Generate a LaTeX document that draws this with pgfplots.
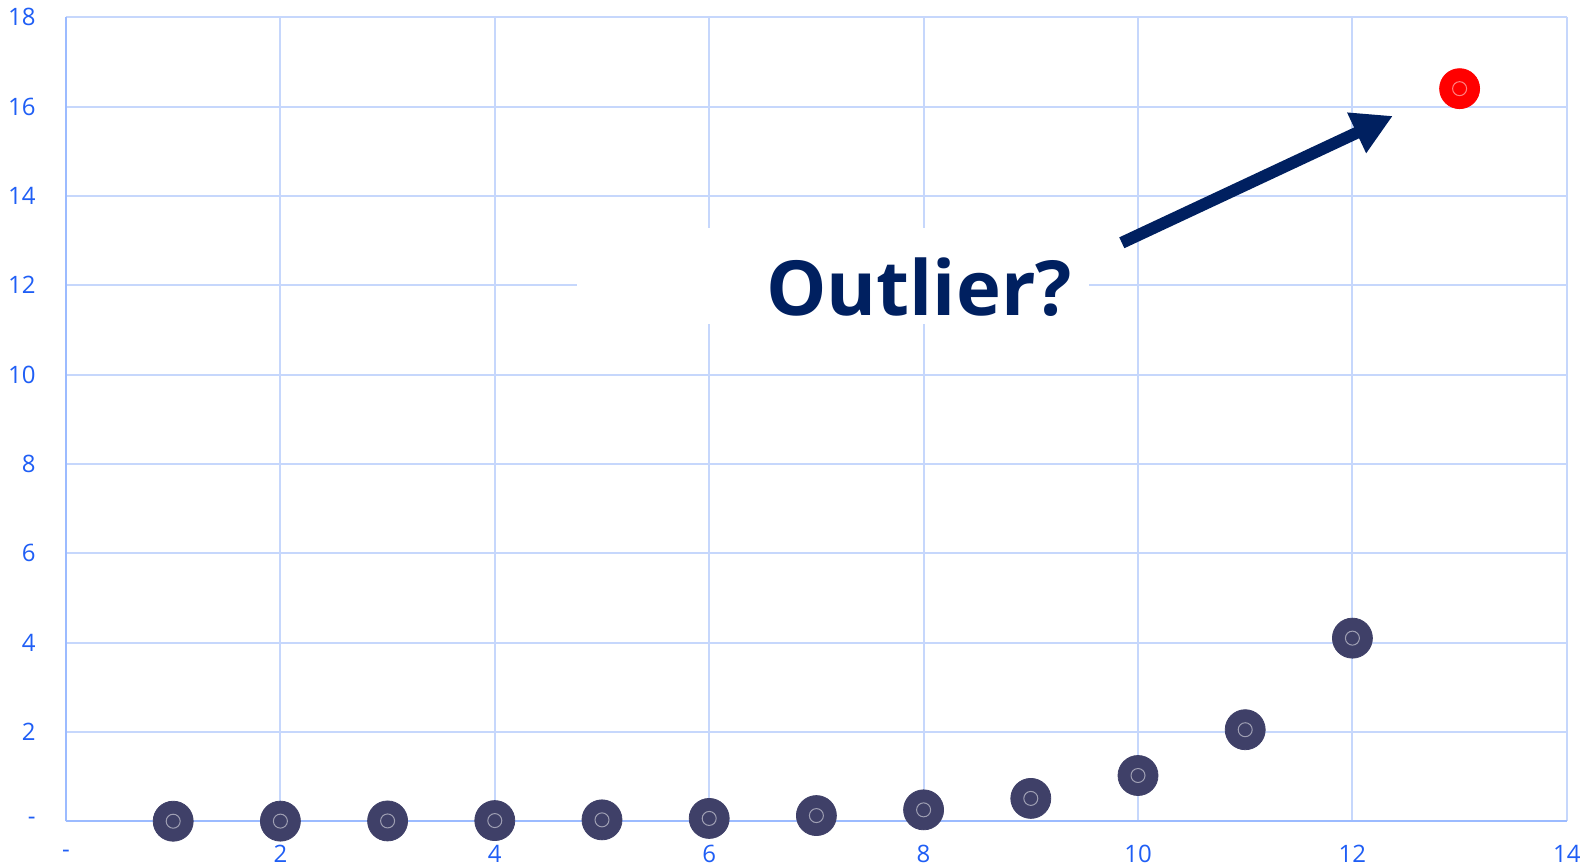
\documentclass[border=0pt]{standalone}
\usepackage{fontspec}
\setmainfont{Open Sans}
\usepackage{pgfplots}
\pgfplotsset{compat=1.18}
\usetikzlibrary{arrows.meta}

\definecolor{ticktext}{HTML}{1F5EF5}
\definecolor{gridc}{HTML}{C6D7FC}
\definecolor{axisc}{HTML}{9CBBFF}
\definecolor{dotc}{HTML}{3F4068}
\definecolor{navy}{HTML}{002060}

\begin{document}
\begin{tikzpicture}
\begin{axis}[
  scale only axis,
  width=750.5pt, height=402.1pt,
  xmin=0, xmax=14, ymin=0, ymax=18,
  xtick={0,2,...,14}, ytick={0,2,...,18},
  xticklabels={-,2,4,6,8,10,12,14},
  yticklabels={-,2,4,6,8,10,12,14,16,18},
  major tick length=0pt,
  grid=major,
  major grid style={draw=gridc, line width=1pt},
  axis x line*=bottom, axis y line*=left,
  axis line style={draw=axisc, line width=1.1pt, -},
  tick label style={text=ticktext, inner sep=0pt, font=\fontsize{12}{14}\selectfont},
  /pgf/number format/assume math mode=true,
  yticklabel style={anchor=east, xshift=-15pt},
  xticklabel style={anchor=center, yshift=-16.5pt},
  clip=false,
]
% growing series
\addplot[only marks, color=dotc, mark=*, mark size=10pt, mark options={fill=dotc, draw=none}]
  coordinates {(1,0.002) (2,0.004) (3,0.008) (4,0.016) (5,0.032) (6,0.064)
               (7,0.128) (8,0.256) (9,0.5125) (10,1.025) (11,2.05) (12,4.1)};
\addplot[only marks, color=white, mark=o, mark size=3.5pt, mark options={draw=white, draw opacity=0.5, line width=0.5pt}]
  coordinates {(1,0.002) (2,0.004) (3,0.008) (4,0.016) (5,0.032) (6,0.064)
               (7,0.128) (8,0.256) (9,0.5125) (10,1.025) (11,2.05) (12,4.1)};
% the suspicious point
\addplot[only marks, color=red, mark=*, mark size=10pt, mark options={fill=red, draw=none}]
  coordinates {(13,16.4)};
\addplot[only marks, color=white, mark=o, mark size=3.5pt, mark options={draw=white, draw opacity=0.5, line width=0.5pt}]
  coordinates {(13,16.4)};

\fill[white] (axis cs:4.768,11.13) rectangle (axis cs:9.544,13.28);
\node[inner sep=0pt, text=navy, font=\bfseries\fontsize{38}{40}\selectfont]
  at (axis cs:7.958,11.96) {Outlier?};
\draw[navy, line width=6pt, -{Triangle[length=20pt, width=21pt]}]
  (axis cs:9.849,12.95) -- (axis cs:12.377,15.79);
\end{axis}
\path ([shift={(-33pt,-22.8pt)}]current axis.south west)
  rectangle ([shift={(11.1pt,8.6pt)}]current axis.north east);
\end{tikzpicture}
\end{document}
